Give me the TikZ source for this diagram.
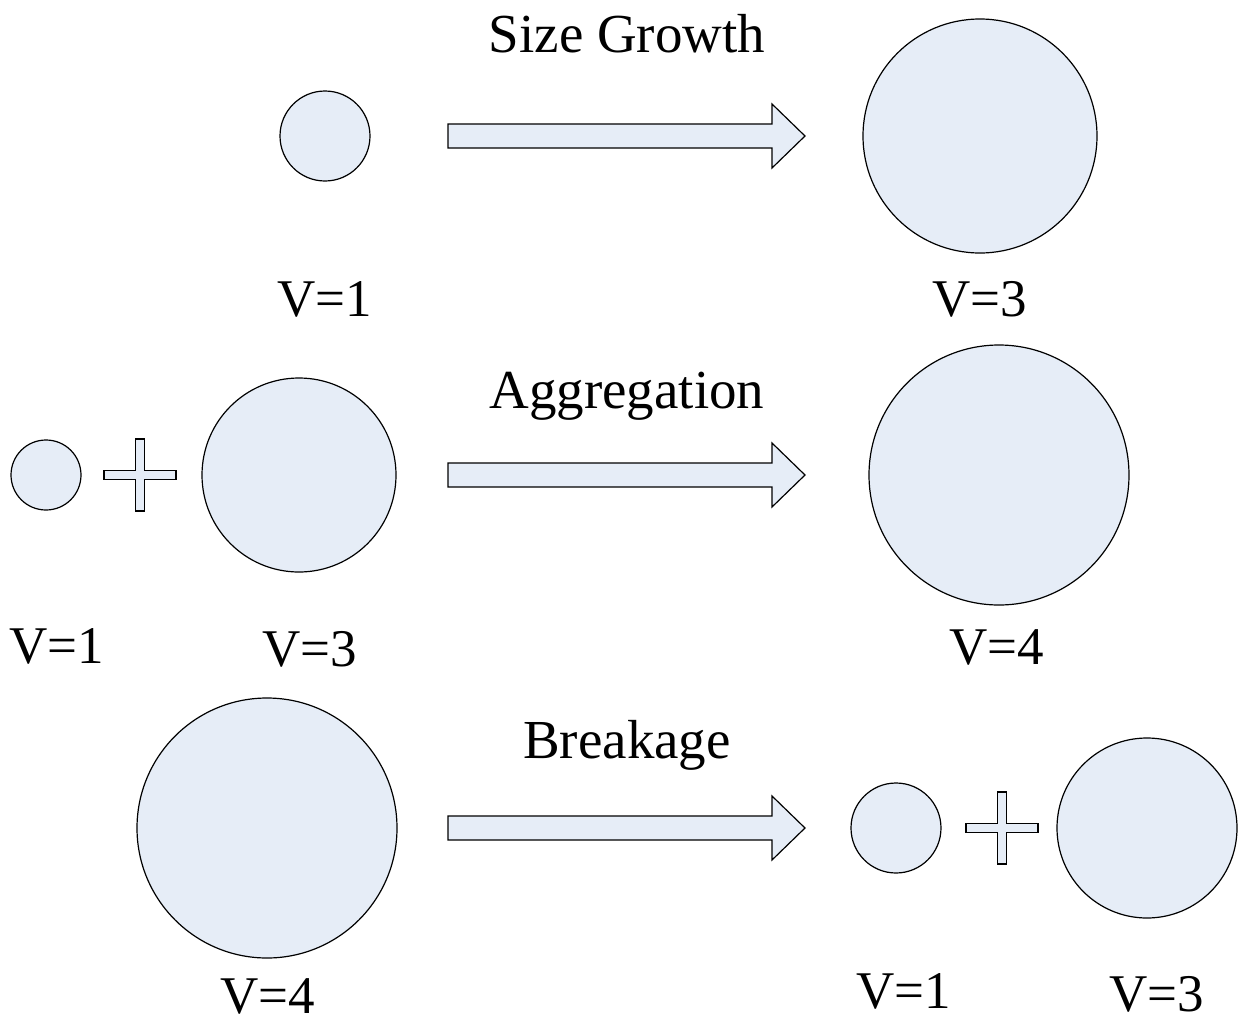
\documentclass[tikz,border=0pt]{standalone}
\usepackage{fontspec}
\setmainfont{Liberation Serif}
\definecolor{pfill}{HTML}{E6EDF7}
\begin{document}
\begin{tikzpicture}[x=1pt,y=-1pt,
  particle/.style={circle,draw=black,line width=1.2pt,fill=pfill,inner sep=0pt},
  blockshape/.style={draw=black,line width=1.2pt,fill=pfill,line join=miter},
  lbl/.style={anchor=base,inner sep=0pt,font=\fontsize{53}{60}\selectfont},
  ttl/.style={anchor=base,inner sep=0pt,font=\fontsize{55}{62}\selectfont}]
\useasboundingbox (0,0) rectangle (1240,1023);
\newcommand\blockarrow[1]{%
  \draw[blockshape] (#1) ++(-179,-12) -- ++(324,0) -- ++(0,-20) -- ++(33,32) -- ++(-33,32) -- ++(0,-20) -- ++(-324,0) -- cycle;}
\newcommand\plussign[1]{%
  \draw[blockshape] (#1) ++(-4.75,-36) -- ++(9.5,0) -- ++(0,31.25) -- ++(31.25,0) -- ++(0,9.5) -- ++(-31.25,0) -- ++(0,31.25) -- ++(-9.5,0) -- ++(0,-31.25) -- ++(-31.25,0) -- ++(0,-9.5) -- ++(31.25,0) -- cycle;}
% Row 1: size growth
\node[particle,minimum size=90] (g1) at (325,136) {};
\node[particle,minimum size=234] (g2) at (980,136) {};
\coordinate (ga) at (627,136);
\blockarrow{ga}
\node[ttl] (tg) at (627,52) {Size Growth};
\node[lbl] (vg1) at (325,316) {V=1};
\node[lbl] (vg2) at (980,316) {V=3};
% Row 2: aggregation
\node[particle,minimum size=70] (a1) at (46,475) {};
\coordinate (ap) at (140,475);
\plussign{ap}
\node[particle,minimum size=194] (a2) at (299,475) {};
\node[particle,minimum size=260] (a3) at (999,475) {};
\coordinate (aa) at (627,475);
\blockarrow{aa}
\node[ttl] (ta) at (627,408) {Aggregation};
\node[lbl] (va1) at (57,663) {V=1};
\node[lbl] (va2) at (310,666) {V=3};
\node[lbl] (va3) at (997,664) {V=4};
% Row 3: breakage
\node[particle,minimum size=260] (b1) at (267,828) {};
\coordinate (ba) at (627,828);
\blockarrow{ba}
\node[particle,minimum size=90] (b2) at (896,828) {};
\coordinate (bp) at (1002,828);
\plussign{bp}
\node[particle,minimum size=180] (b3) at (1147,828) {};
\node[ttl] (tb) at (627,758) {Breakage};
\node[lbl] (vb1) at (268,1013) {V=4};
\node[lbl] (vb2) at (904,1008) {V=1};
\node[lbl] (vb3) at (1157,1011) {V=3};
\end{tikzpicture}
\end{document}
